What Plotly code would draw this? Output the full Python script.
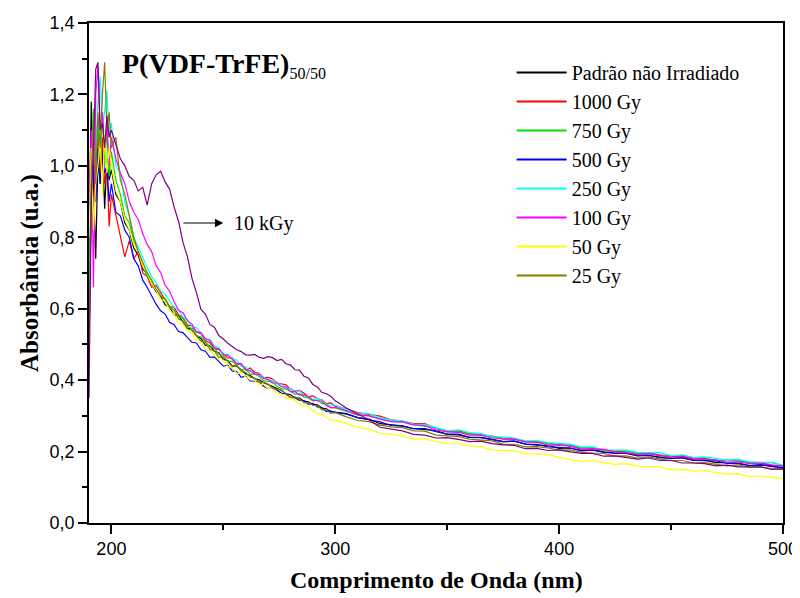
import plotly.graph_objects as go

# Wavelength grid (nm)
wavelength = ([190,191,192,193,194,195,196,197,198,199,200] +
              [202,204,206,208,210,212,214,216,218,220] +
              [222,224,226,228,230,232,234,236,238,240,242,244,246,248,250,252,254,256,258,260] +
              [262,264,266,268,270,272,274,276,278,280,282,284,286,288,290,292,294,296,298,300] +
              [305,310,315,320,325,330,335,340,345,350,355,360,365,370,375,380,385,390,395,400,
               405,410,415,420,425,430,435,440,445,450,455,460,465,470,475,480,485,490,495,500])

padrao = ([0.78,1.18,0.95,0.74,1.02,0.95,1.05,0.88,1.02,0.96,0.99] +
          [0.92,0.90,0.84,0.82,0.77,0.75,0.71,0.70,0.67,0.648] +
          [0.635,0.611,0.604,0.583,0.580,0.563,0.545,0.544,0.524,0.517,0.497,0.496,0.481,0.477,0.458,0.455,0.439,0.439,0.428,0.417] +
          [0.413,0.404,0.401,0.393,0.388,0.382,0.375,0.371,0.362,0.359,0.351,0.350,0.341,0.339,0.332,0.331,0.322,0.320,0.312,0.310] +
          [0.306,0.295,0.291,0.278,0.276,0.272,0.264,0.262,0.259,0.248,0.247,0.240,0.240,0.234,0.228,0.229,0.221,0.218,0.217,0.209,
           0.210,0.203,0.205,0.199,0.195,0.195,0.188,0.189,0.185,0.180,0.183,0.176,0.176,0.169,0.169,0.167,0.161,0.163,0.158,0.156])

gy1000 = ([0.70,0.95,1.02,0.90,1.10,0.98,1.08,0.95,1.00,0.83,0.92] +
          [0.86,0.80,0.745,0.79,0.74,0.76,0.70,0.69,0.66,0.665] +
          [0.644,0.625,0.606,0.604,0.583,0.575,0.554,0.552,0.535,0.530,0.510,0.505,0.488,0.486,0.474,0.462,0.462,0.445,0.444,0.429] +
          [0.434,0.422,0.419,0.407,0.408,0.403,0.392,0.389,0.387,0.375,0.369,0.371,0.364,0.353,0.356,0.348,0.345,0.334,0.336,0.327] +
          [0.320,0.309,0.305,0.299,0.289,0.285,0.278,0.278,0.265,0.256,0.258,0.250,0.246,0.243,0.235,0.235,0.228,0.229,0.223,0.219,
           0.216,0.207,0.208,0.204,0.199,0.201,0.195,0.195,0.188,0.187,0.186,0.179,0.181,0.175,0.174,0.174,0.168,0.168,0.161,0.161])

gy750 = ([0.62,1.00,1.16,0.98,1.12,1.02,1.15,1.00,1.10,0.97,1.04] +
         [0.96,0.92,0.86,0.84,0.79,0.76,0.72,0.69,0.675,0.652] +
         [0.636,0.625,0.601,0.597,0.579,0.572,0.550,0.544,0.525,0.521,0.507,0.493,0.491,0.472,0.469,0.452,0.453,0.441,0.428,0.431] +
         [0.416,0.417,0.411,0.398,0.396,0.395,0.383,0.375,0.376,0.369,0.361,0.362,0.353,0.350,0.342,0.344,0.334,0.334,0.323,0.322] +
         [0.313,0.303,0.301,0.292,0.284,0.283,0.275,0.271,0.266,0.255,0.256,0.249,0.249,0.241,0.237,0.236,0.227,0.227,0.223,0.218,
          0.219,0.211,0.211,0.204,0.203,0.201,0.195,0.197,0.191,0.189,0.190,0.183,0.183,0.175,0.176,0.175,0.169,0.169,0.169,0.161])

gy500 = ([0.50,0.88,1.00,0.90,1.05,0.95,1.02,0.98,1.00,0.90,0.95] +
         [0.87,0.86,0.82,0.80,0.74,0.72,0.68,0.66,0.635,0.612] +
         [0.594,0.585,0.562,0.555,0.536,0.533,0.519,0.506,0.504,0.485,0.481,0.464,0.465,0.452,0.439,0.442,0.426,0.424,0.408,0.411] +
         [0.398,0.397,0.395,0.383,0.376,0.378,0.372,0.363,0.362,0.351,0.351,0.343,0.343,0.332,0.335,0.325,0.323,0.312,0.313,0.310] +
         [0.305,0.295,0.289,0.283,0.273,0.271,0.264,0.264,0.256,0.249,0.249,0.240,0.239,0.233,0.228,0.229,0.221,0.220,0.213,0.212,
          0.210,0.202,0.204,0.198,0.196,0.196,0.190,0.190,0.182,0.182,0.182,0.175,0.175,0.174,0.167,0.166,0.161,0.163,0.160,0.154])

gy250 = ([0.55,0.95,1.10,1.05,1.18,1.25,1.10,1.15,1.21,1.08,1.12] +
         [1.00,0.98,0.90,0.86,0.80,0.77,0.74,0.715,0.69,0.672] +
         [0.650,0.641,0.622,0.604,0.598,0.576,0.569,0.549,0.547,0.531,0.515,0.515,0.496,0.491,0.472,0.473,0.459,0.456,0.439,0.437] +
         [0.426,0.418,0.417,0.409,0.400,0.401,0.391,0.388,0.377,0.377,0.368,0.370,0.357,0.354,0.346,0.349,0.344,0.331,0.330,0.330] +
         [0.318,0.308,0.306,0.295,0.289,0.286,0.277,0.276,0.267,0.259,0.261,0.253,0.251,0.242,0.241,0.238,0.230,0.231,0.225,0.223,
          0.221,0.213,0.213,0.205,0.205,0.204,0.198,0.198,0.197,0.189,0.189,0.183,0.185,0.181,0.176,0.178,0.172,0.170,0.170,0.162])

gy100 = ([0.90,1.10,0.66,1.20,1.28,1.10,1.15,1.05,1.12,1.00,1.08] +
         [1.02,0.98,0.95,0.90,0.87,0.85,0.81,0.78,0.76,0.72] +
         [0.702,0.666,0.649,0.620,0.595,0.589,0.566,0.557,0.535,0.533,0.516,0.511,0.491,0.487,0.471,0.470,0.458,0.446,0.446,0.429] +
         [0.426,0.417,0.416,0.404,0.402,0.392,0.392,0.381,0.381,0.368,0.368,0.359,0.359,0.353,0.344,0.343,0.341,0.329,0.323,0.324] +
         [0.315,0.303,0.300,0.291,0.284,0.283,0.275,0.273,0.260,0.256,0.254,0.246,0.246,0.238,0.236,0.235,0.227,0.226,0.218,0.218,
          0.215,0.207,0.207,0.206,0.198,0.197,0.192,0.194,0.190,0.184,0.187,0.180,0.178,0.177,0.170,0.171,0.166,0.168,0.163,0.159])

gy50 = ([0.80,1.05,0.82,0.95,1.00,1.08,0.92,1.10,0.98,1.05,1.00] +
        [0.93,0.90,0.85,0.82,0.78,0.76,0.72,0.70,0.67,0.652] +
        [0.627,0.620,0.595,0.584,0.560,0.556,0.538,0.531,0.510,0.504,0.486,0.483,0.470,0.457,0.456,0.438,0.435,0.419,0.421,0.409] +
        [0.401,0.399,0.388,0.388,0.377,0.377,0.363,0.361,0.349,0.349,0.344,0.333,0.329,0.326,0.314,0.306,0.305,0.297,0.287,0.288] +
        [0.278,0.268,0.263,0.252,0.248,0.244,0.235,0.236,0.228,0.224,0.223,0.216,0.214,0.204,0.203,0.202,0.194,0.193,0.192,0.184,
         0.178,0.172,0.174,0.170,0.164,0.166,0.159,0.158,0.157,0.149,0.150,0.145,0.147,0.141,0.137,0.138,0.130,0.132,0.128,0.124])

gy25 = ([0.45,0.98,1.12,0.95,1.15,1.05,1.20,1.29,1.10,1.15,1.05] +
        [1.08,0.96,0.92,0.86,0.80,0.76,0.73,0.70,0.68,0.655] +
        [0.636,0.628,0.606,0.596,0.572,0.564,0.544,0.539,0.524,0.509,0.506,0.486,0.482,0.464,0.465,0.452,0.438,0.441,0.425,0.422] +
        [0.408,0.406,0.394,0.394,0.389,0.377,0.374,0.372,0.360,0.352,0.353,0.347,0.337,0.337,0.329,0.329,0.317,0.317,0.307,0.309] +
        [0.297,0.287,0.284,0.274,0.269,0.267,0.258,0.257,0.246,0.244,0.242,0.235,0.233,0.230,0.221,0.220,0.213,0.214,0.210,0.204,
         0.205,0.198,0.196,0.195,0.187,0.188,0.182,0.185,0.179,0.175,0.175,0.168,0.169,0.165,0.160,0.163,0.156,0.157,0.150,0.150])

kgy10 = ([0.35,0.90,1.05,1.27,1.29,1.10,1.12,1.05,1.14,1.08,1.10] +
         [1.06,1.02,1.00,0.97,0.96,0.93,0.94,0.89,0.95,0.975] +
         [0.985,0.955,0.935,0.885,0.845,0.785,0.745,0.685,0.645,0.598,0.585,0.556,0.548,0.525,0.515,0.503,0.494,0.485,0.480,0.471] +
         [0.470,0.472,0.464,0.461,0.466,0.463,0.455,0.458,0.446,0.442,0.429,0.428,0.411,0.406,0.388,0.381,0.366,0.362,0.355,0.342] +
         [0.322,0.305,0.289,0.268,0.262,0.258,0.248,0.246,0.238,0.239,0.234,0.228,0.229,0.222,0.219,0.217,0.208,0.209,0.203,0.205,
          0.199,0.195,0.195,0.187,0.188,0.184,0.179,0.182,0.175,0.175,0.168,0.168,0.166,0.160,0.162,0.157,0.156,0.157,0.151,0.152])

series_names = ["Padrão não Irradiado", "1000 Gy", "750 Gy", "500 Gy",
                "250 Gy", "100 Gy", "50 Gy", "25 Gy"]
series_values = [padrao, gy1000, gy750, gy500, gy250, gy100, gy50, gy25]
series_colors = ["#000000", "#ff0000", "#00e000", "#0000ff",
                 "#00ffff", "#ff00ff", "#ffff00", "#808000"]

SERIF = "Liberation Serif, Times New Roman, serif"
SANS = "Liberation Sans, Arial, sans-serif"

fig = go.Figure()
for name, vals, col in zip(series_names, series_values, series_colors):
    fig.add_trace(go.Scatter(x=wavelength, y=vals, mode="lines", name=name,
                             legendgroup=name, showlegend=False,
                             line=dict(color=col, width=1.2)))
fig.add_trace(go.Scatter(x=wavelength, y=kgy10, mode="lines", name="10 kGy",
                         showlegend=False, line=dict(color="#800080", width=1.2)))
# legend entries (slightly thicker sample lines, as in the original legend)
for name, col in zip(series_names, series_colors):
    fig.add_trace(go.Scatter(x=[None], y=[None], mode="lines", name=name,
                             legendgroup=name, showlegend=True,
                             line=dict(color=col, width=2)))

axis_common = dict(showline=True, linecolor="black", linewidth=1.5, mirror=True,
                   ticks="outside", ticklen=9, tickwidth=1.5, tickcolor="black",
                   showgrid=False, zeroline=False, automargin=False,
                   tickfont=dict(family=SANS, size=18, color="black"))

# The page body has an 8px default margin, so the figure is 8px smaller than the window.
fig.update_layout(
    width=792, height=590,
    margin=dict(l=81, r=17, t=15, b=75, autoexpand=False),
    paper_bgcolor="white", plot_bgcolor="white",
    separators=",.",
    xaxis=dict(range=[190, 500], tick0=0, dtick=100,
               minor=dict(dtick=50, ticks="outside", ticklen=5, tickwidth=1.5, tickcolor="black"),
               **axis_common),
    yaxis=dict(range=[0, 1.4], tick0=0, dtick=0.2, tickformat=".1f",
               minor=dict(dtick=0.1, ticks="outside", ticklen=5, tickwidth=1.5, tickcolor="black"),
               **axis_common),
    legend=dict(x=0.609, y=0.94, xanchor="left", yanchor="top",
                bgcolor="rgba(0,0,0,0)", borderwidth=0, itemwidth=50,
                tracegroupgap=0,
                font=dict(family=SERIF, size=20, color="black")),
    showlegend=True,
)

# axis titles
fig.add_annotation(xref="paper", yref="paper", x=0.5, y=0, yshift=-57,
                   xanchor="center", yanchor="middle", showarrow=False,
                   text="<b>Comprimento de Onda (nm)</b>",
                   font=dict(family=SERIF, size=24, color="black"))
fig.add_annotation(xref="paper", yref="paper", x=0, y=0.5, xshift=-59,
                   xanchor="center", yanchor="middle", showarrow=False, textangle=-90,
                   text="<b>Absorbância (u.a.)</b>",
                   font=dict(family=SERIF, size=25, color="black"))

fig.add_annotation(xref="paper", yref="paper", x=0.044, y=0.955, xanchor="left", yanchor="top",
                   text="<b>P(VDF-TrFE)</b><sub><span style='font-size:16px'>50/50</span></sub>",
                   showarrow=False,
                   font=dict(family=SERIF, size=28, color="black"))

fig.add_annotation(xref="x", yref="y", x=250, y=0.84, ax=231.5, ay=0.84,
                   axref="x", ayref="y", text="", showarrow=True,
                   arrowhead=2, arrowsize=1.4, arrowwidth=1.2, arrowcolor="black")
fig.add_annotation(xref="x", yref="y", x=253.7, y=0.84, xanchor="left", yanchor="middle",
                   text="10 kGy", showarrow=False,
                   font=dict(family=SERIF, size=20, color="black"))

fig.write_html("out.html")
